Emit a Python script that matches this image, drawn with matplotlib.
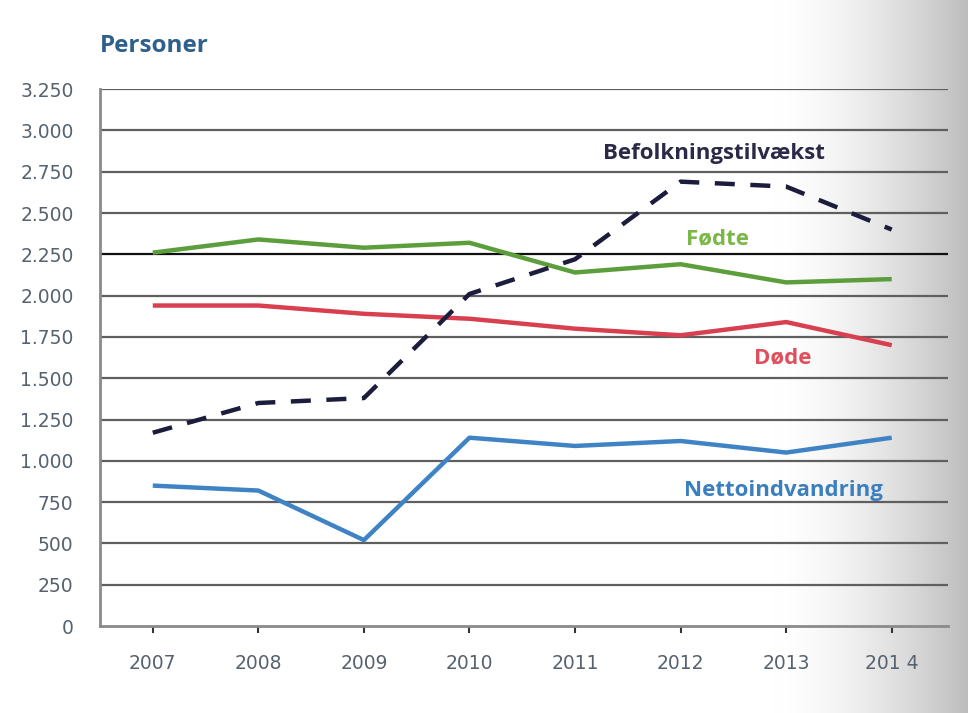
import matplotlib
matplotlib.use("Agg")
import matplotlib.pyplot as plt
import numpy as np
from matplotlib.ticker import FuncFormatter

years = [2007, 2008, 2009, 2010, 2011, 2012, 2013, 2014]
year_labels = ["2007", "2008", "2009", "2010", "2011", "2012", "2013", "201 4"]
befolkning = [1170, 1350, 1380, 2010, 2220, 2690, 2660, 2400]
fodte = [2260, 2340, 2290, 2320, 2140, 2190, 2080, 2100]
dode = [1940, 1940, 1890, 1860, 1800, 1760, 1840, 1700]
netto = [850, 820, 520, 1140, 1090, 1120, 1050, 1140]
yticks = list(range(0, 3251, 250))

fig = plt.figure(figsize=(9.68, 7.13), dpi=100)

# background gradient (grey shading on the right)
bg = fig.add_axes([0, 0, 1, 1], zorder=-10)
w, h = 968, 713
xx = np.linspace(0, 1, w)
shade = np.clip((xx - 0.80) / 0.20, 0, 1) ** 1.6
img = np.ones((h, w, 3))
val = 1 - 0.26 * shade
img[:, :, 0] = val
img[:, :, 1] = val
img[:, :, 2] = val
bg.imshow(img, aspect="auto", extent=[0, 1, 0, 1])
bg.set_axis_off()

ax = fig.add_axes([0.1033, 0.122, 0.8757, 0.753])
ax.patch.set_alpha(0)
ax.set_xlim(2006.5, 2014.53)
ax.set_ylim(0, 3250)

for v in yticks:
    if v == 0:
        continue
    c = "#111111" if v == 2250 else "#5f5f5f"
    ax.axhline(v, color=c, lw=1.6, zorder=1)

ax.plot(years, fodte, color="#5b9e3b", lw=3.2, zorder=3, solid_capstyle="butt")
ax.plot(years, dode, color="#d8404f", lw=3.2, zorder=3, solid_capstyle="butt")
ax.plot(years, netto, color="#3f83c4", lw=3.2, zorder=3, solid_capstyle="butt")
ax.plot(years, befolkning, color="#1c1c3c", lw=3.2, zorder=4,
        linestyle=(0, (4.5, 3.5)))

for s in ["top", "right"]:
    ax.spines[s].set_visible(False)
ax.spines["left"].set_color("#8a8a8a")
ax.spines["left"].set_linewidth(2)
ax.spines["bottom"].set_color("#8a8a8a")
ax.spines["bottom"].set_linewidth(2)

ax.set_yticks(yticks)
ax.yaxis.set_major_formatter(FuncFormatter(lambda v, p: f"{int(v):,}".replace(",", ".")))
ax.set_xticks(years)
ax.set_xticklabels(year_labels)
ax.tick_params(axis="y", length=0, pad=19, labelsize=13.5, labelcolor="#56626e")
ax.tick_params(axis="x", length=5, width=1.5, color="#333333", direction="out",
               pad=15, labelsize=13.5, labelcolor="#56626e")

fig.text(0.103, 0.936, "Personer", fontsize=17.5, fontweight="bold",
         color="#2f5f8c", family="Open Sans", va="center", ha="left")

ax.text(2012.32, 2860, "Befolkningstilvækst", fontsize=16, fontweight="bold",
        color="#2a2a48", family="Open Sans", ha="center", va="center")
ax.text(2012.35, 2345, "Fødte", fontsize=16, fontweight="bold",
        color="#7ab648", family="Open Sans", ha="center", va="center")
ax.text(2012.97, 1625, "Døde", fontsize=16, fontweight="bold",
        color="#e0505c", family="Open Sans", ha="center", va="center")
ax.text(2012.97, 822, "Nettoindvandring", fontsize=16, fontweight="bold",
        color="#3b7fbf", family="Open Sans", ha="center", va="center")

fig.savefig("out.png", dpi=100)
